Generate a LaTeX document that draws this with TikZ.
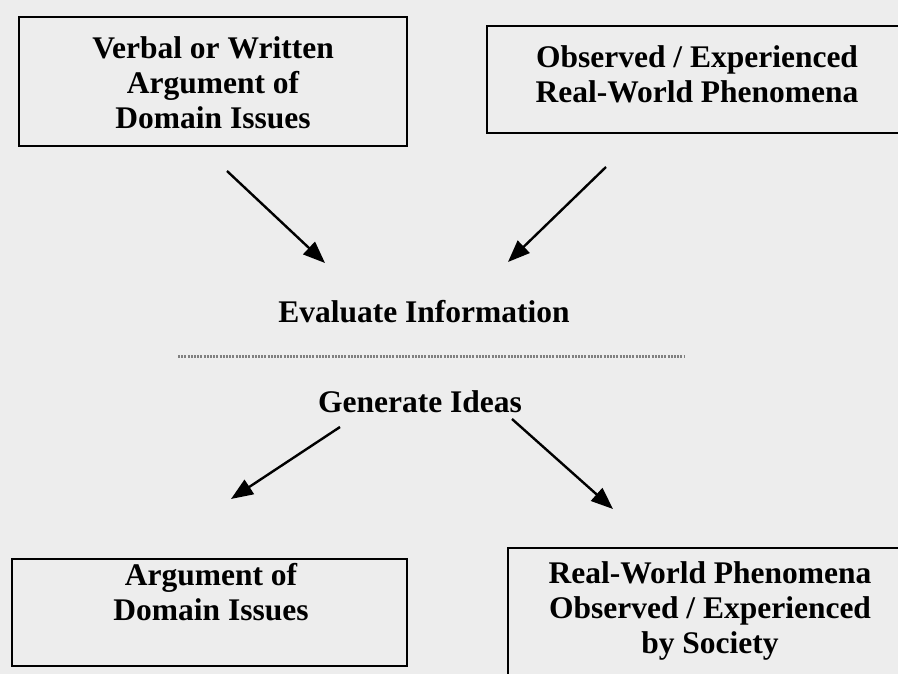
\documentclass[tikz,border=0pt]{standalone}
\usepackage{fontspec}
\setmainfont{Liberation Serif}
\usetikzlibrary{arrows.meta}
\begin{document}
\begin{tikzpicture}[x=1pt,y=-1pt,
  frame/.style={draw=black, line width=2.6pt, inner sep=0pt},
  txt/.style={align=center, inner sep=0pt, font=\bfseries\fontsize{31.5}{35}\selectfont},
  flow/.style={line width=2.4pt, -{Triangle[length=22pt,width=17pt]}},
  divider/.style={line width=3pt, black!50, dash pattern=on 2pt off 1.2pt}
]
% page background
\fill[black!7] (0,0) rectangle (898,674);
\useasboundingbox (0,0) rectangle (898,674);
\clip (0,0) rectangle (898,674);

% frames
\node[frame, minimum width=388pt, minimum height=129pt] (f1) at (213,81.5) {};
\node[frame, minimum width=420pt, minimum height=107pt] (f2) at (697,79.5) {};
\node[frame, minimum width=395pt, minimum height=107pt] (f3) at (209.5,612.5) {};
\node[frame, minimum width=404pt, minimum height=152pt] (f4) at (710,624) {};

% box texts
\node[txt] (t1) at (213,83) {Verbal or Written\\Argument of\\Domain Issues};
\node[txt] (t2) at (697,74.5) {Observed / Experienced\\Real-World Phenomena};
\node[txt] (t3) at (211,592.5) {Argument of\\Domain Issues};
\node[txt] (t4) at (710,611) {Real-World Phenomena\\Observed / Experienced\\by Society};

% central labels
\node[txt] (eval) at (424,312) {Evaluate Information};
\node[txt] (gen) at (420,402) {Generate Ideas};

% divider between the two stages
\coordinate (dL) at (178,356);
\coordinate (dR) at (685,356);
\draw[divider] (dL) -- (dR);

% arrow end points
\coordinate (a1s) at (227,171); \coordinate (a1e) at (325,263);
\coordinate (a2s) at (606,167); \coordinate (a2e) at (508,262);
\coordinate (a3s) at (340,427); \coordinate (a3e) at (231,499);
\coordinate (a4s) at (512,419); \coordinate (a4e) at (613,509);

\draw[flow] (a1s) -- (a1e);
\draw[flow] (a2s) -- (a2e);
\draw[flow] (a3s) -- (a3e);
\draw[flow] (a4s) -- (a4e);
\end{tikzpicture}
\end{document}
